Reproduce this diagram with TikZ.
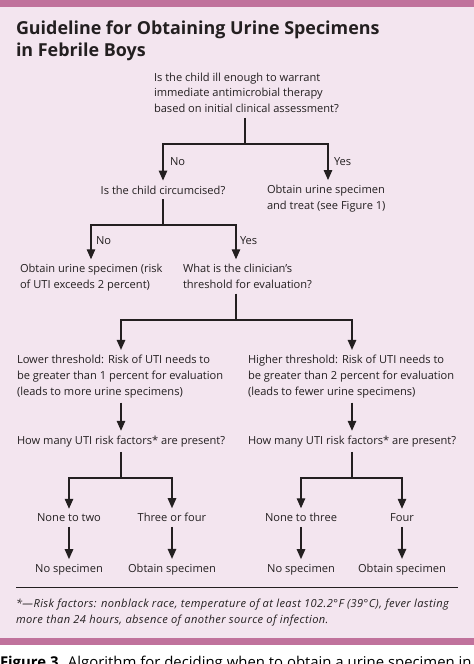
\documentclass[tikz,border=0pt]{standalone}
\usepackage{fontspec}
\setmainfont{Open Sans}
\usetikzlibrary{arrows.meta}
\definecolor{bgpink}{RGB}{243,229,239}
\definecolor{band}{RGB}{192,114,156}
\definecolor{ink}{RGB}{35,31,32}
\newcommand{\bodyfont}{\fontsize{11.1bp}{15.8bp}\selectfont}
\newcommand{\titlefont}{\fontsize{17.9bp}{21.7bp}\selectfont\bfseries}
\tikzset{
  txt/.style={inner sep=0pt, outer sep=0pt, align=left, anchor=base west, font=\bodyfont, text=ink},
  ctxt/.style={txt, anchor=base, align=center},
  ln/.style={draw=ink, line width=1.3bp, shorten <=5bp},
  arr/.style={draw=ink, line width=1.3bp, -{Triangle[width=8.5bp,length=10bp]}, shorten >=5bp},
}
\begin{document}
\begin{tikzpicture}[x=1bp,y=-1bp]
\useasboundingbox (0,0) rectangle (474,664);
\clip (0,0) rectangle (474,664);
% background and bands
\fill[bgpink] (0,7) rectangle (474,638);
\fill[band] (0,0) rectangle (474,7);
\fill[band] (0,638) rectangle (474,645);
% title (base = last line)
\node[txt, font=\titlefont] (title) at (16,56.7) {Guideline for Obtaining Urine Specimens\\in Febrile Boys};
% nodes (multi-line nodes placed at baseline of their last line)
\node[txt] (q1) at (154,112.7) {Is the child ill enough to warrant\\immediate antimicrobial therapy\\based on initial clinical assessment?};
\node[ctxt] (circ) at (163,194) {Is the child circumcised?};
\node[txt] (treat) at (267,209.3) {Obtain urine specimen\\and treat (see Figure 1)};
\node[txt] (risk2) at (20,288.5) {Obtain urine specimen (risk\\of UTI exceeds 2 percent)};
\node[txt] (clin) at (183,288.5) {What is the clinician’s\\threshold for evaluation?};
\node[txt] (lower) at (17,395) {Lower threshold: Risk of UTI needs to\\be greater than 1 percent for evaluation\\(leads to more urine specimens)};
\node[txt] (higher) at (248,395) {Higher threshold: Risk of UTI needs to\\be greater than 2 percent for evaluation\\(leads to fewer urine specimens)};
\node[txt] (howL) at (17,444.3) {How many UTI risk factors* are present?};
\node[txt] (howR) at (248,444.3) {How many UTI risk factors* are present?};
\node[ctxt] (l1) at (69,521.7) {None to two};
\node[ctxt] (l2) at (172,521.7) {Three or four};
\node[ctxt] (r1) at (301,521.7) {None to three};
\node[ctxt] (r2) at (402,521.7) {Four};
\node[ctxt] (e1) at (69,572.3) {No specimen};
\node[ctxt] (e2) at (172,572.3) {Obtain specimen};
\node[ctxt] (e3) at (301,572.3) {No specimen};
\node[ctxt] (e4) at (402,572.3) {Obtain specimen};
% branch labels
\node[txt] (no1) at (170,165) {No};
\node[txt] (yes1) at (334,165) {Yes};
\node[txt] (no2) at (96,244.3) {No};
\node[txt] (yes2) at (240,244.3) {Yes};
% junctions
\coordinate (j1) at (245,144);
\coordinate (j2) at (163,225);
\coordinate (j3) at (236,320);
\coordinate (j4) at (121,478);
\coordinate (j5) at (352,478);
\coordinate (c1) at (328,0);
\coordinate (c2) at (91,0);
\coordinate (c3) at (236,0);
% connectors
\draw[ln] (q1.south -| j1) -- (j1);
\draw[arr] (j1) -| (circ.north);
\draw[arr] (j1) -| (treat.north -| c1);
\draw[ln] (circ.south) -- (j2);
\draw[arr] (j2) -| (risk2.north -| c2);
\draw[arr] (j2) -| (clin.north -| c3);
\draw[ln] (clin.south -| j3) -- (j3);
\draw[arr] (j3) -| (lower.north -| j4);
\draw[arr] (j3) -| (higher.north -| j5);
\draw[arr, shorten <=5bp] (lower.south -| j4) -- (howL.north -| j4);
\draw[arr, shorten <=5bp] (higher.south -| j5) -- (howR.north -| j5);
\draw[ln] (howL.south -| j4) -- (j4);
\draw[ln] (howR.south -| j5) -- (j5);
\draw[arr] (j4) -| (l1.north);
\draw[arr] (j4) -| (l2.north);
\draw[arr] (j5) -| (r1.north);
\draw[arr] (j5) -| (r2.north);
\draw[arr, shorten <=5bp] (l1.south) -- (e1.north);
\draw[arr, shorten <=5bp] (l2.south) -- (e2.north);
\draw[arr, shorten <=5bp] (r1.south) -- (e3.north);
\draw[arr, shorten <=5bp] (r2.south) -- (e4.north);
% rule and footnote
\coordinate (ra) at (16,587);
\coordinate (rb) at (458,587);
\draw[ink, line width=1bp] (ra) -- (rb);
\node[txt, font=\bodyfont\itshape\addfontfeature{LetterSpace=3.5}, text=ink] (foot) at (16,623.3) {*—Risk factors: nonblack race, temperature of at least 102.2°F (39°C), fever lasting\\more than 24 hours, absence of another source of infection.};
% caption (cut off at the bottom edge, as in the reference)
\node[txt, font=\fontsize{14.9bp}{17bp}\selectfont, text=black] (cap) at (0,667.6) {\textbf{Figure 3.} Algorithm for deciding when to obtain a urine specimen in};
\end{tikzpicture}
\end{document}
